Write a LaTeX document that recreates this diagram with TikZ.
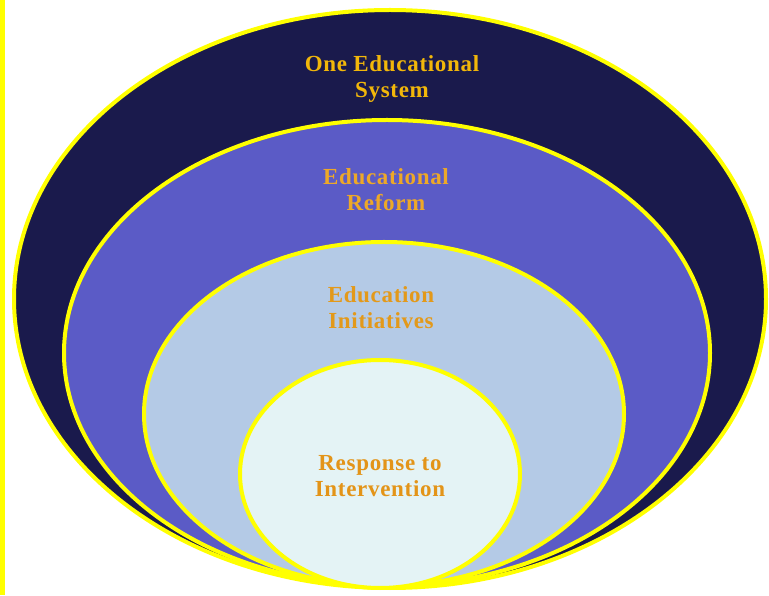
\documentclass[tikz,border=0pt]{standalone}
\usepackage{fontspec}
\setmainfont{Liberation Serif}
\definecolor{ringyellow}{HTML}{FFFF00}
\definecolor{navy}{HTML}{1A1A4C}
\definecolor{midblue}{HTML}{5B5BC6}
\definecolor{lightblue}{HTML}{B4CAE6}
\definecolor{paleblue}{HTML}{E4F3F5}
\definecolor{goldA}{HTML}{F2B70A}
\definecolor{goldB}{HTML}{EDA828}
\definecolor{goldC}{HTML}{E3991A}
\definecolor{goldD}{HTML}{E39418}
\begin{document}
\begin{tikzpicture}[x=1pt,y=1pt,
  ring/.style={draw=ringyellow,line width=4pt},
  label/.style={align=center,font=\fontsize{23}{26}\selectfont\bfseries\addfontfeatures{LetterSpace=3},inner sep=0pt}]
\useasboundingbox (0,0) rectangle (769,595);
\fill[white] (0,0) rectangle (769,595);
\fill[ringyellow] (0,0) rectangle (5,595);
\draw[ring,fill=navy] (390,296) ellipse [x radius=376,y radius=289];
\draw[ring,fill=midblue] (387,242) ellipse [x radius=323,y radius=233];
\draw[ring,fill=lightblue] (384,181) ellipse [x radius=240,y radius=172];
\draw[ring,fill=paleblue] (380,121) ellipse [x radius=140,y radius=114];
\node[label,text=goldA] (sys) at (392,516) {One Educational\\System};
\node[label,text=goldB] (ref) at (386,405) {Educational\\Reform};
\node[label,text=goldC] (ini) at (381,287) {Education\\Initiatives};
\node[label,text=goldD] (rti) at (380,119) {Response to\\Intervention};
\end{tikzpicture}
\end{document}
